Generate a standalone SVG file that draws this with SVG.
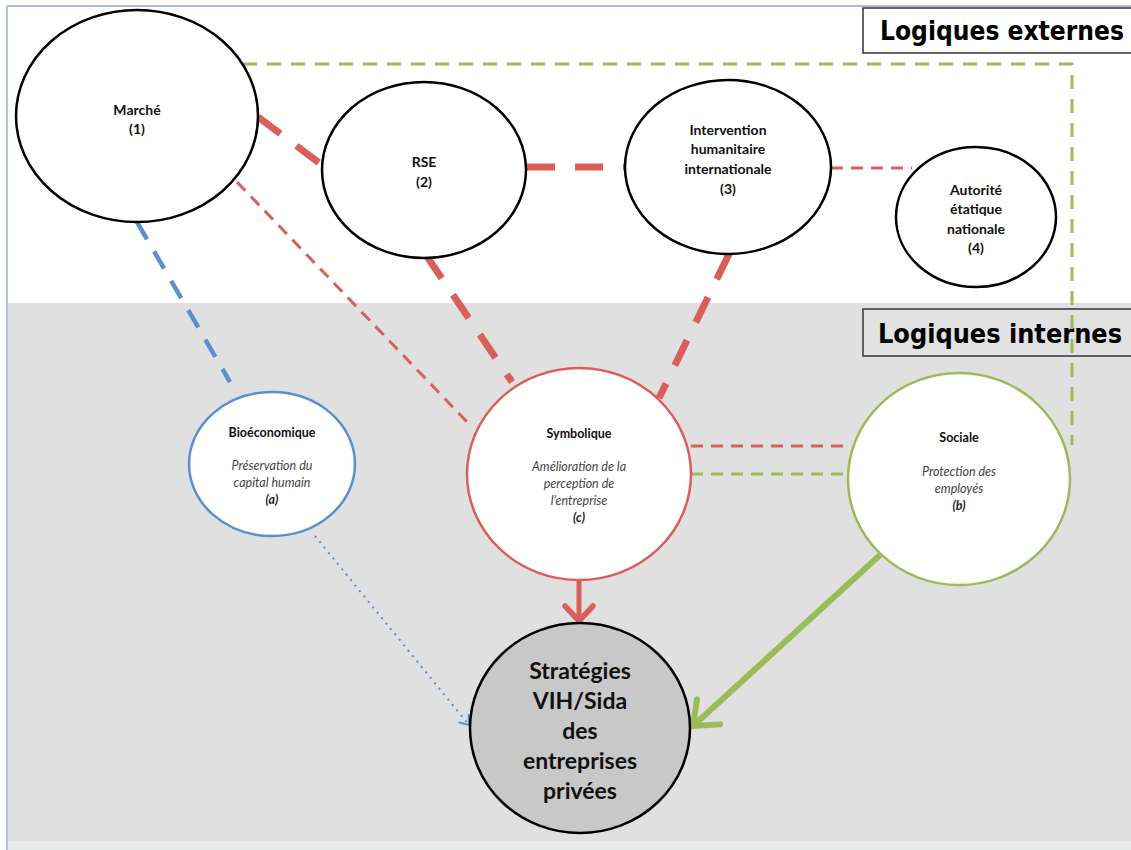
<svg xmlns="http://www.w3.org/2000/svg" width="1131" height="850" viewBox="0 0 1131 850">
<style>
.node{fill:#fff;stroke:#000;stroke-width:2.5}
.lbl{font-family:Lato,"Open Sans","Liberation Sans",sans-serif;font-size:14px;font-weight:bold;fill:#111;text-anchor:middle}
.sm{font-family:Lato,"Open Sans","Liberation Sans",sans-serif;font-size:12.5px;font-weight:bold;fill:#111;text-anchor:middle}
.it{font-family:Lato,"Open Sans","Liberation Sans",sans-serif;font-size:12.5px;font-style:italic;fill:#444;text-anchor:middle}
.itb{font-family:Lato,"Open Sans","Liberation Sans",sans-serif;font-size:12.5px;font-style:italic;font-weight:bold;fill:#222;text-anchor:middle}
.big{font-family:Lato,"Open Sans","Liberation Sans",sans-serif;font-size:23px;font-weight:bold;fill:#111;text-anchor:middle}
.title{font-family:"DejaVu Sans Condensed","DejaVu Sans","Liberation Sans",sans-serif;font-size:26px;font-weight:bold;fill:#000}
.red{stroke:#d9605a;fill:none}
.thick{stroke-width:7;stroke-dasharray:28 20}
.thin{stroke-width:3;stroke-dasharray:12 8}
.green{stroke:#9bbb59;fill:none}
</style>
<defs>
<marker id="arrRed" viewBox="-20 -20 40 40" markerWidth="40" markerHeight="40" refX="0" refY="0" orient="auto" markerUnits="userSpaceOnUse">
<path d="M-15,-14 L0,0 L-15,14" fill="none" stroke="#d9605a" stroke-width="5.5" stroke-linecap="round" stroke-linejoin="round"/>
</marker>
<marker id="arrGreen" viewBox="-30 -30 60 60" markerWidth="60" markerHeight="60" refX="0" refY="0" orient="auto" markerUnits="userSpaceOnUse">
<path d="M-21,-17 L0,0 L-21,17" fill="none" stroke="#9bbb59" stroke-width="6" stroke-linecap="round" stroke-linejoin="round"/>
</marker>
<marker id="arrBlue" viewBox="-12 -12 24 24" markerWidth="24" markerHeight="24" refX="0" refY="0" orient="auto" markerUnits="userSpaceOnUse">
<path d="M-8,-6 L0,0 L-8,6" fill="none" stroke="#5b8fd0" stroke-width="2" stroke-linecap="round"/>
</marker>
</defs>

<g id="background">
<rect x="0" y="0" width="1131" height="850" fill="#ffffff"/>
<rect x="8" y="303" width="1123" height="538" fill="#e0e0e0"/>
<rect x="8" y="841" width="1123" height="9" fill="#e8eaea"/>
<line x1="7" y1="6" x2="1131" y2="6" stroke="#a9c0dc" stroke-width="2"/>
<line x1="7" y1="6" x2="7" y2="850" stroke="#b3c3d6" stroke-width="2"/>
</g>

<g id="title-externes">
<rect x="863" y="8" width="280" height="45" fill="#fff" stroke="#333" stroke-width="1.5"/>
<text class="title" x="880" y="40" textLength="244" lengthAdjust="spacingAndGlyphs">Logiques externes</text>
</g>
<g id="title-internes">
<rect x="863" y="309" width="280" height="47" fill="#e2e2e2" stroke="#333" stroke-width="1.5"/>
<text class="title" x="878" y="343" textLength="244" lengthAdjust="spacingAndGlyphs">Logiques internes</text>
</g>

<g id="connectors">
<path class="green" d="M243,64 H1072 V445" stroke-width="3" stroke-dasharray="14 10"/>
<line class="red thick" x1="258" y1="117" x2="322" y2="165"/>
<line class="red thick" x1="527" y1="167" x2="625" y2="167"/>
<line class="red thin" x1="831" y1="168" x2="912" y2="168"/>
<line class="red thin" x1="237" y1="182" x2="470" y2="425"/>
<line class="red thick" x1="426" y1="255" x2="512" y2="382"/>
<line class="red thick" x1="729" y1="254" x2="659" y2="398"/>
<line x1="137" y1="222" x2="230" y2="382" stroke="#5b8fd0" stroke-width="4.5" stroke-dasharray="20 14"/>
<line class="red thin" x1="691" y1="446" x2="848" y2="446"/>
<line class="green" x1="691" y1="474" x2="848" y2="474" stroke-width="3" stroke-dasharray="12 8"/>
<line x1="579" y1="581" x2="579" y2="621" stroke="#d9605a" stroke-width="5" marker-end="url(#arrRed)"/>
<line x1="880" y1="555" x2="693" y2="726" stroke="#9bbb59" stroke-width="6" marker-end="url(#arrGreen)"/>
<line x1="315" y1="536" x2="469" y2="725" stroke="#5b8fd0" stroke-width="2" stroke-dasharray="2 5" marker-end="url(#arrBlue)"/>
</g>

<g id="marche">
<ellipse class="node" cx="137" cy="116" rx="121" ry="106"/>
<text class="lbl" x="137" y="115">Marché</text>
<text class="lbl" x="137" y="134">(1)</text>
</g>
<g id="rse">
<ellipse class="node" cx="424" cy="170" rx="102" ry="88"/>
<text class="lbl" x="424" y="167">RSE</text>
<text class="lbl" x="424" y="187">(2)</text>
</g>
<g id="intervention">
<ellipse class="node" cx="728" cy="167" rx="103" ry="87"/>
<text class="lbl" x="728" y="135">Intervention</text>
<text class="lbl" x="728" y="154">humanitaire</text>
<text class="lbl" x="728" y="174">internationale</text>
<text class="lbl" x="728" y="194">(3)</text>
</g>
<g id="autorite">
<ellipse class="node" cx="976" cy="217" rx="80" ry="70"/>
<text class="lbl" x="976" y="195">Autorité</text>
<text class="lbl" x="976" y="214">étatique</text>
<text class="lbl" x="976" y="234">nationale</text>
<text class="lbl" x="976" y="253">(4)</text>
</g>

<g id="bioeconomique">
<ellipse cx="272" cy="464" rx="83" ry="72" fill="#fff" stroke="#5b8fd0" stroke-width="2.5"/>
<text class="sm" x="272" y="437">Bioéconomique</text>
<text class="it" x="272" y="470">Préservation du</text>
<text class="it" x="272" y="487">capital humain</text>
<text class="itb" x="272" y="504">(a)</text>
</g>
<g id="symbolique">
<ellipse cx="579" cy="474" rx="112" ry="106" fill="#fff" stroke="#d9605a" stroke-width="2.5"/>
<text class="sm" x="579" y="438">Symbolique</text>
<text class="it" x="579" y="471">Amélioration de la</text>
<text class="it" x="579" y="488">perception de</text>
<text class="it" x="579" y="505">l’entreprise</text>
<text class="itb" x="579" y="522">(c)</text>
</g>
<g id="sociale">
<ellipse cx="959" cy="479" rx="111" ry="106" fill="#fff" stroke="#9bbb59" stroke-width="2.5"/>
<text class="sm" x="959" y="442">Sociale</text>
<text class="it" x="959" y="476">Protection des</text>
<text class="it" x="959" y="493">employés</text>
<text class="itb" x="959" y="510">(b)</text>
</g>
<g id="strategies">
<ellipse cx="580" cy="728" rx="110" ry="105" fill="#c8c8c8" stroke="#000" stroke-width="2.5"/>
<text class="big" x="580" y="679">Stratégies</text>
<text class="big" x="580" y="709">VIH/Sida</text>
<text class="big" x="580" y="739">des</text>
<text class="big" x="580" y="769">entreprises</text>
<text class="big" x="580" y="799">privées</text>
</g>
</svg>
